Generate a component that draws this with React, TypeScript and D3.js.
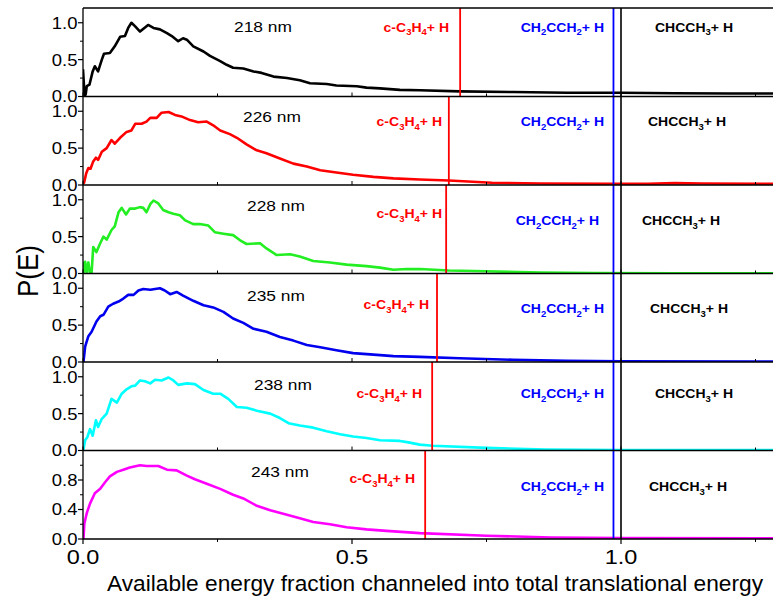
import React from "react";
import * as d3 from "d3";

type Pt = [number, number];

const wavelengths = ["218 nm", "226 nm", "228 nm", "235 nm", "238 nm", "243 nm"];
const curveColors = ["#000000", "#ff0000", "#22ee22", "#0000ee", "#00ffff", "#ff00ff"];

const p218: Pt[] = [[0,0.37],[0.003,0.0],[0.005,0.03],[0.007,0.14],[0.012,0.16],[0.018,0.34],[0.022,0.41],[0.028,0.34],[0.035,0.50],[0.039,0.58],[0.050,0.59],[0.059,0.68],[0.069,0.81],[0.078,0.82],[0.084,0.93],[0.090,1.0],[0.097,0.95],[0.106,0.88],[0.121,0.97],[0.131,0.93],[0.143,0.91],[0.156,0.86],[0.165,0.82],[0.177,0.75],[0.186,0.79],[0.193,0.77],[0.205,0.68],[0.224,0.61],[0.236,0.55],[0.255,0.48],[0.267,0.43],[0.279,0.39],[0.298,0.38],[0.317,0.34],[0.332,0.32],[0.354,0.27],[0.379,0.25],[0.403,0.22],[0.422,0.18],[0.453,0.17],[0.471,0.15],[0.509,0.14],[0.527,0.12],[0.552,0.11],[0.589,0.09],[0.626,0.085],[0.70,0.07],[0.80,0.06],[0.90,0.05],[1.0,0.05],[1.1,0.045],[1.2,0.04],[1.284,0.04]];
const p226: Pt[] = [[0,0.02],[0.002,0.03],[0.006,0.16],[0.010,0.23],[0.014,0.22],[0.019,0.32],[0.024,0.37],[0.028,0.34],[0.035,0.45],[0.044,0.50],[0.053,0.61],[0.059,0.56],[0.069,0.64],[0.081,0.72],[0.090,0.74],[0.097,0.83],[0.109,0.83],[0.118,0.86],[0.125,0.91],[0.137,0.91],[0.146,0.98],[0.159,0.99],[0.171,0.95],[0.183,0.93],[0.199,0.88],[0.214,0.85],[0.230,0.86],[0.242,0.81],[0.255,0.74],[0.273,0.69],[0.286,0.64],[0.304,0.55],[0.323,0.47],[0.341,0.43],[0.366,0.36],[0.391,0.29],[0.416,0.25],[0.441,0.20],[0.471,0.17],[0.502,0.14],[0.540,0.11],[0.577,0.09],[0.626,0.075],[0.68,0.06],[0.76,0.03],[0.85,0.02],[0.99,0.015],[1.05,0.015],[1.1,0.025],[1.15,0.02],[1.284,0.015]];
const p228: Pt[] = [[0,0.16],[0.002,0.02],[0.004,0.16],[0.007,0.02],[0.010,0.15],[0.013,0.0],[0.016,0.01],[0.019,0.36],[0.025,0.29],[0.032,0.41],[0.038,0.50],[0.044,0.46],[0.053,0.59],[0.059,0.64],[0.066,0.83],[0.072,0.89],[0.080,0.80],[0.087,0.88],[0.097,0.88],[0.106,0.90],[0.112,0.89],[0.118,0.83],[0.125,0.94],[0.131,0.99],[0.140,0.95],[0.149,0.86],[0.159,0.83],[0.168,0.81],[0.180,0.79],[0.190,0.72],[0.205,0.67],[0.217,0.67],[0.233,0.65],[0.245,0.56],[0.261,0.54],[0.279,0.52],[0.292,0.45],[0.304,0.40],[0.329,0.41],[0.341,0.34],[0.360,0.25],[0.385,0.26],[0.403,0.23],[0.428,0.17],[0.459,0.15],[0.490,0.12],[0.527,0.10],[0.552,0.08],[0.577,0.05],[0.602,0.06],[0.626,0.06],[0.68,0.04],[0.75,0.03],[0.85,0.012],[0.95,0.005],[1.1,0.003],[1.284,0.003]];
const p235: Pt[] = [[0,0.0],[0.001,0.01],[0.004,0.21],[0.010,0.35],[0.016,0.41],[0.025,0.55],[0.032,0.62],[0.038,0.64],[0.047,0.75],[0.056,0.79],[0.066,0.82],[0.075,0.86],[0.084,0.91],[0.094,0.91],[0.103,0.97],[0.112,0.99],[0.125,0.98],[0.134,0.99],[0.143,1.0],[0.152,0.97],[0.162,0.92],[0.174,0.95],[0.186,0.90],[0.205,0.83],[0.224,0.77],[0.242,0.74],[0.261,0.68],[0.279,0.59],[0.298,0.53],[0.317,0.45],[0.341,0.41],[0.366,0.34],[0.391,0.29],[0.416,0.23],[0.441,0.20],[0.471,0.16],[0.502,0.12],[0.540,0.10],[0.577,0.08],[0.626,0.07],[0.70,0.05],[0.80,0.03],[0.90,0.015],[1.0,0.008],[1.284,0.005]];
const p238: Pt[] = [[0,0.0],[0.001,0.02],[0.004,0.14],[0.008,0.18],[0.013,0.29],[0.018,0.20],[0.024,0.41],[0.028,0.32],[0.035,0.43],[0.044,0.50],[0.053,0.70],[0.063,0.65],[0.072,0.77],[0.081,0.83],[0.090,0.87],[0.097,0.88],[0.106,0.95],[0.115,0.94],[0.125,0.91],[0.134,0.96],[0.146,0.95],[0.159,0.99],[0.168,0.95],[0.177,0.89],[0.193,0.91],[0.208,0.90],[0.224,0.82],[0.242,0.77],[0.255,0.77],[0.270,0.70],[0.286,0.59],[0.304,0.58],[0.323,0.54],[0.348,0.50],[0.366,0.44],[0.382,0.37],[0.403,0.34],[0.428,0.31],[0.453,0.26],[0.478,0.22],[0.502,0.19],[0.527,0.17],[0.552,0.14],[0.589,0.13],[0.605,0.11],[0.626,0.08],[0.65,0.065],[0.75,0.036],[0.86,0.014],[1.0,0.006],[1.284,0.005]];
const p243: Pt[] = [[0,0],[0.001,0.01],[0.0025,0.21],[0.007,0.35],[0.013,0.48],[0.022,0.62],[0.032,0.68],[0.041,0.77],[0.050,0.85],[0.063,0.91],[0.075,0.94],[0.087,0.97],[0.106,1.0],[0.118,0.99],[0.140,0.99],[0.156,0.94],[0.174,0.93],[0.193,0.86],[0.208,0.81],[0.230,0.75],[0.255,0.68],[0.279,0.60],[0.298,0.55],[0.323,0.45],[0.348,0.39],[0.379,0.33],[0.403,0.28],[0.428,0.23],[0.459,0.20],[0.490,0.16],[0.527,0.13],[0.564,0.11],[0.626,0.08],[0.75,0.045],[0.87,0.02],[1.0,0.012],[1.284,0.01]];
const seriesData: Pt[][] = [p218, p226, p228, p235, p238, p243];

// threshold markers (fraction of available energy)
const cC3H4Limit = [0.701, 0.680, 0.675, 0.658, 0.649, 0.636];
const ch2cch2Limit = 0.986;
const chcch3Limit = 1.0;

const yTicksMain = [0, 0.5, 1.0];
const yMinorMain = [0.25, 0.75];
const yTicksBottom = [0, 0.4, 0.8];
const yMinorBottom = [0.2, 0.6, 1.0];
const xTicksMajor = [0, 0.5, 1.0];
const xTicksMinor = [0.25, 0.75, 1.25];

// label layout (pixels)
const nmLabelPos: Pt[] = [[234, 32], [243, 121.5], [247, 210.5], [247, 300.5], [254, 389.5], [251, 476.5]];
const redLabelPos: Pt[] = [[449, 31.5], [442, 126], [442, 218], [429, 309], [422, 398], [415, 483]];
const blueLabelPos: Pt[] = [[604, 31.5], [604, 126], [599, 225], [604, 313], [604, 398], [604, 491]];
const blackLabelPos: Pt[] = [[733, 31.5], [726, 126], [720, 225], [728, 313], [733, 398], [727, 491]];

const FONT = "Arial, 'Liberation Sans', sans-serif";
const SX = 1.12;

const left = 83, right = 774, top = 8, panelH = 88.5;

type Part = { t: string; sub?: boolean };
const redParts: Part[] = [{ t: "c-C" }, { t: "3", sub: true }, { t: "H" }, { t: "4", sub: true }, { t: "+ H" }];
const blueParts: Part[] = [{ t: "CH" }, { t: "2", sub: true }, { t: "CCH" }, { t: "2", sub: true }, { t: "+ H" }];
const blackParts: Part[] = [{ t: "CHCCH" }, { t: "3", sub: true }, { t: "+ H" }];

function Formula({ parts, pos, color }: { parts: Part[]; pos: Pt; color: string }) {
  let prevSub = false;
  return (
    <text transform={`translate(${pos[0]},${pos[1]}) scale(${SX},1)`} textAnchor="end"
      fontFamily={FONT} fontWeight="bold" fontSize={12.5} fill={color}>
      {parts.map((p, i) => {
        let dy = 0;
        if (p.sub && !prevSub) dy = 3.5;
        if (!p.sub && prevSub) dy = -3.5;
        prevSub = !!p.sub;
        return (
          <tspan key={i} dy={dy} fontSize={p.sub ? 8.5 : 12.5}>{p.t}</tspan>
        );
      })}
    </text>
  );
}

export default function App() {
  const x = d3.scaleLinear().domain([0, (right - left) / 538]).range([left, right]);
  const fmt = d3.format(".1f");
  const n = seriesData.length;
  const bottomAll = top + panelH * n;

  return (
    <svg width={773} height={596} style={{ position: "absolute", left: 0, top: 0, background: "#fff" }}
      fontFamily={FONT}>
      <defs>
        {seriesData.map((_, i) => (
          <clipPath id={`clip${i}`} key={i}>
            <rect x={left} y={top + panelH * i} width={right - left} height={panelH} />
          </clipPath>
        ))}
      </defs>
      {seriesData.map((data, i) => {
        const y0 = top + panelH * i;
        const y1 = y0 + panelH;
        const y = d3.scaleLinear().domain([0, 1.2]).range([y1, y0]);
        const line = d3.line<Pt>().x(d => x(d[0])).y(d => y(d[1]));
        const isBottom = i === n - 1;
        const major = isBottom ? yTicksBottom : yTicksMain;
        const minor = isBottom ? yMinorBottom : yMinorMain;
        return (
          <g key={i}>
            <path d={line(data) || ""} fill="none" stroke={curveColors[i]} strokeWidth={2.6}
              strokeLinejoin="round" clipPath={`url(#clip${i})`} />
            {/* red threshold */}
            <line x1={x(cC3H4Limit[i])} x2={x(cC3H4Limit[i])} y1={y0} y2={y1} stroke="#ff0000" strokeWidth={1.8} />
            {/* y ticks */}
            {major.map(t => (
              <g key={`M${t}`}>
                <line x1={left - 5} x2={left} y1={y(t)} y2={y(t)} stroke="#000" strokeWidth={1.2} />
                <text transform={`translate(${left - 5.5},${y(t)}) scale(${SX},1)`} dy="0.36em" textAnchor="end"
                  fontSize={16.5} fill="#000">{fmt(t)}</text>
              </g>
            ))}
            {minor.map(t => (
              <line key={`m${t}`} x1={left - 3} x2={left} y1={y(t)} y2={y(t)} stroke="#000" strokeWidth={1} />
            ))}
            {/* x ticks at panel bottom */}
            {!isBottom && xTicksMajor.concat(xTicksMinor).map(t => (
              <line key={`x${t}`} x1={x(t)} x2={x(t)} y1={y1} y2={y1 - (xTicksMajor.includes(t) ? 4 : 3)}
                stroke="#000" strokeWidth={1} />
            ))}
            <text transform={`translate(${nmLabelPos[i][0]},${nmLabelPos[i][1]}) scale(${SX},1)`}
              fontSize={15.5} fill="#000">{wavelengths[i]}</text>
            <Formula parts={redParts} pos={redLabelPos[i]} color="#ff0000" />
            <Formula parts={blueParts} pos={blueLabelPos[i]} color="#0000ff" />
            <Formula parts={blackParts} pos={blackLabelPos[i]} color="#000000" />
          </g>
        );
      })}
      {/* full-height thresholds */}
      <line x1={x(ch2cch2Limit)} x2={x(ch2cch2Limit)} y1={top} y2={bottomAll} stroke="#0000ff" strokeWidth={1.8} />
      <line x1={x(chcch3Limit)} x2={x(chcch3Limit)} y1={top} y2={bottomAll} stroke="#000" strokeWidth={1.6} />
      {/* frames */}
      {d3.range(n + 1).map(k => (
        <line key={`h${k}`} x1={left} x2={right} y1={top + panelH * k} y2={top + panelH * k} stroke="#000" strokeWidth={1.3} />
      ))}
      <line x1={left} x2={left} y1={top} y2={bottomAll} stroke="#000" strokeWidth={1.3} />
      {/* bottom x axis */}
      {xTicksMajor.map(t => (
        <g key={`bx${t}`}>
          <line x1={x(t)} x2={x(t)} y1={bottomAll} y2={bottomAll + 5} stroke="#000" strokeWidth={1.2} />
          <text transform={`translate(${x(t)},564) scale(${SX},1)`} textAnchor="middle" fontSize={21} fill="#000">{fmt(t)}</text>
        </g>
      ))}
      {xTicksMinor.map(t => (
        <line key={`bm${t}`} x1={x(t)} x2={x(t)} y1={bottomAll} y2={bottomAll + 3} stroke="#000" strokeWidth={1} />
      ))}
      <text x={107} y={591} fontSize={21.5} textLength={656} lengthAdjust="spacingAndGlyphs" fill="#000">
        Available energy fraction channeled into total translational energy
      </text>
      <text transform={`translate(27.5,271) scale(${SX},1) rotate(-90)`} textAnchor="middle" dy="0.35em"
        fontSize={26} fill="#000">P(E)</text>
    </svg>
  );
}
